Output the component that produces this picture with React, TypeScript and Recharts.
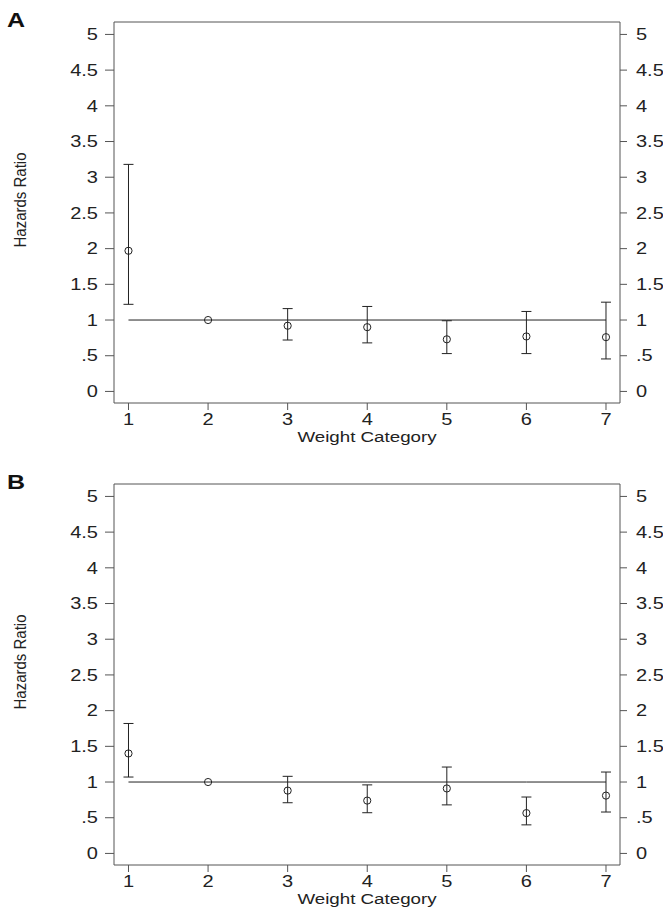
import {
  ComposedChart,
  ErrorBar,
  Line,
  Scatter,
  XAxis,
  YAxis,
} from "recharts";

const categories = [1, 2, 3, 4, 5, 6, 7];
const yTicks = [0, 0.5, 1, 1.5, 2, 2.5, 3, 3.5, 4, 4.5, 5];
const baseline = [1, 1, 1, 1, 1, 1, 1];

// panel A
const hrA = [1.97, 1.0, 0.92, 0.9, 0.73, 0.77, 0.76];
const lowA = [1.22, null, 0.72, 0.68, 0.53, 0.53, 0.455];
const highA = [3.18, null, 1.16, 1.19, 0.99, 1.12, 1.25];

// panel B
const hrB = [1.4, 1.0, 0.88, 0.74, 0.91, 0.565, 0.81];
const lowB = [1.07, null, 0.71, 0.57, 0.68, 0.4, 0.58];
const highB = [1.82, null, 1.08, 0.96, 1.21, 0.79, 1.14];

const FONT = "'Liberation Sans', Arial, sans-serif";
const INK = "#222";
const AXIS = "#555";

function buildRows(hr: number[], low: (number | null)[], high: (number | null)[]) {
  return categories.map((c, i) => ({
    cat: c,
    hr: hr[i],
    ref: baseline[i],
    err: low[i] == null || high[i] == null ? null : [hr[i] - (low[i] as number), (high[i] as number) - hr[i]],
  }));
}

const fmtY = (v: number) => (v === 0.5 ? ".5" : String(v));

const LeftTick = (props: any) => {
  const { x, y, payload } = props;
  return (
    <g transform={`translate(${x},${y})`}>
      <text transform="scale(1.25,1)" textAnchor="end" dy="0.355em" fontSize={16} fill={INK} fontFamily={FONT}>
        {fmtY(payload.value)}
      </text>
    </g>
  );
};

const RightTick = (props: any) => {
  const { x, y, payload } = props;
  return (
    <g transform={`translate(${x},${y})`}>
      <text transform="scale(1.25,1)" textAnchor="start" dy="0.355em" fontSize={16} fill={INK} fontFamily={FONT}>
        {fmtY(payload.value)}
      </text>
    </g>
  );
};

const BottomTick = (props: any) => {
  const { x, y, payload } = props;
  return (
    <g transform={`translate(${x},${y})`}>
      <text transform="scale(1.25,1)" textAnchor="middle" dy="0.71em" fontSize={16} fill={INK} fontFamily={FONT}>
        {payload.value}
      </text>
    </g>
  );
};

const AxisTitle = (props: any) => {
  const vb = props.viewBox;
  return (
    <g transform={`translate(${vb.x + vb.width / 2},${vb.y + vb.height - 1})`}>
      <text transform="scale(1.25,1)" textAnchor="middle" fontSize={15} fill={INK} fontFamily={FONT}>
        Weight Category
      </text>
    </g>
  );
};

const Ring = (p: any) => <circle cx={p.cx} cy={p.cy} r={3.6} fill="none" stroke={INK} strokeWidth={1} />;

function Panel({ rows, top, letter }: { rows: any[]; top: number; letter: string }) {
  return (
    <div style={{ position: "absolute", left: 0, top, width: 663, height: 445 }}>
      <div
        style={{
          position: "absolute",
          left: 7,
          top: 10,
          fontFamily: FONT,
          fontWeight: 700,
          fontSize: 20,
          lineHeight: "20px",
          transform: "scale(1.25,1)",
          transformOrigin: "left top",
          color: "#111",
        }}
      >
        {letter}
      </div>
      <div
        style={{
          position: "absolute",
          left: 20,
          top: 200,
          fontFamily: FONT,
          fontSize: 15,
          lineHeight: "15px",
          whiteSpace: "nowrap",
          color: INK,
          transform: "translate(-50%,-50%) scale(1.15,1) rotate(-90deg)",
        }}
      >
        Hazards Ratio
      </div>
      <ComposedChart width={663} height={445} data={rows} margin={{ top: 8, right: 3, bottom: 2, left: 54 }}>
        <XAxis
          xAxisId="b"
          dataKey="cat"
          type="number"
          domain={[0.818, 7.176]}
          ticks={categories}
          allowDataOverflow
          height={40}
          stroke={AXIS}
          tickSize={7}
          tickMargin={4}
          tick={<BottomTick />}
          label={{ content: <AxisTitle /> }}
        />
        <XAxis
          xAxisId="t"
          orientation="top"
          dataKey="cat"
          type="number"
          domain={[0.818, 7.176]}
          ticks={categories}
          allowDataOverflow
          height={14}
          stroke={AXIS}
          tickSize={8}
          tick={false}
        />
        <YAxis
          yAxisId="l"
          type="number"
          domain={[-0.162, 5.174]}
          ticks={yTicks}
          allowDataOverflow
          width={60}
          stroke={AXIS}
          tickSize={9}
          tickMargin={7}
          tick={<LeftTick />}
        />
        <YAxis
          yAxisId="r"
          orientation="right"
          type="number"
          domain={[-0.162, 5.174]}
          ticks={yTicks}
          allowDataOverflow
          width={40}
          stroke={AXIS}
          tickSize={7}
          tickMargin={9}
          tick={<RightTick />}
        />
        <Line
          xAxisId="b"
          yAxisId="l"
          dataKey="ref"
          stroke={INK}
          strokeWidth={1}
          dot={false}
          activeDot={false}
          isAnimationActive={false}
        />
        <Scatter xAxisId="b" yAxisId="l" dataKey="hr" shape={<Ring />} isAnimationActive={false}>
          <ErrorBar dataKey="err" direction="y" width={5} stroke={INK} strokeWidth={1} isAnimationActive={false} />
        </Scatter>
      </ComposedChart>
    </div>
  );
}

export default function App() {
  const rowsA = buildRows(hrA, lowA, highA);
  const rowsB = buildRows(hrB, lowB, highB);
  return (
    <div
      style={{
        position: "fixed",
        left: 0,
        top: 0,
        width: 663,
        height: 907,
        overflow: "hidden",
        background: "#fff",
      }}
    >
      <Panel rows={rowsA} top={0} letter="A" />
      <Panel rows={rowsB} top={462} letter="B" />
    </div>
  );
}
